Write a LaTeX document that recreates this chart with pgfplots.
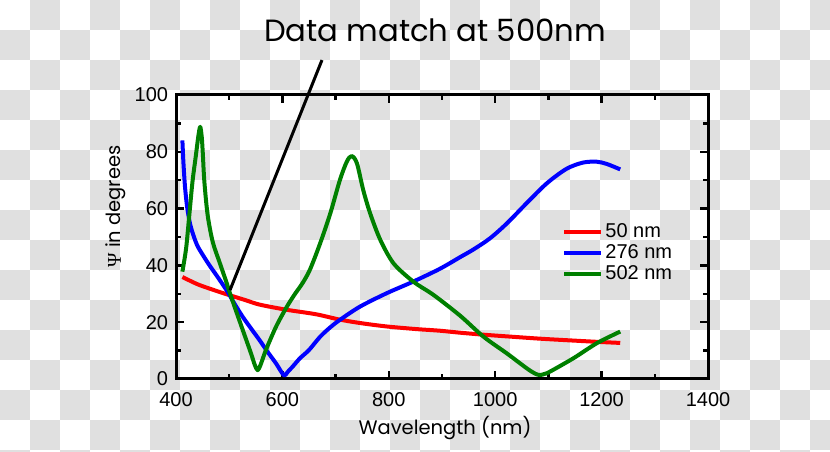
\documentclass[border=0pt]{standalone}
\usepackage{pgfplots}
\pgfplotsset{compat=1.18}
\usepackage{fontspec}
\setmainfont{Liberation Sans}
\newfontfamily\pop{Poppins}
\newfontfamily\lserif{Liberation Serif}
\definecolor{chk}{RGB}{224,224,224}
\definecolor{cred}{RGB}{255,0,0}
\definecolor{cblue}{RGB}{0,0,255}
\definecolor{cgreen}{RGB}{0,128,0}
\begin{document}
\begin{tikzpicture}[x=1pt,y=1pt]
\useasboundingbox (0,0) rectangle (830,452);
\begin{scope}
\clip (0,0) rectangle (830,452);
\foreach \i in {0,...,27}{\foreach \j in {0,...,15}{
  \pgfmathtruncatemacro{\k}{mod(\i+\j,2)}
  \ifnum\k=1 \fill[chk] (30*\i,452-30*\j) rectangle ++(30,-30); \fi
}}
\end{scope}
\begin{axis}[
  at={(176pt,73pt)}, anchor=south west, scale only axis,
  width=532pt, height=284pt,
  xmin=400, xmax=1400, ymin=0, ymax=100,
  clip=false,
  xtick={400,600,...,1400}, minor xtick={500,700,...,1300},
  ytick={0,20,...,100}, minor ytick={10,30,...,90},
  tick align=inside,
  major tick length=8pt, minor tick length=5pt,
  axis line style={line width=3pt},
  every tick/.style={black, line width=2.5pt},
  /pgf/number format/assume math mode=true,
  /pgf/number format/1000 sep={},
  ticklabel style={font=\fontsize{20}{20}\selectfont, inner sep=0pt},
  yticklabel style={xshift=-7.7pt},
  xticklabel style={yshift=-13.7pt},
  legend style={draw=none, fill=none, at={(axis cs:1126,55.4)}, anchor=north west,
    font=\fontsize{20}{20}\selectfont, row sep=1.5pt, inner sep=0pt},
  legend cell align=left,
  legend image code/.code={\draw[#1] (0pt,0pt) -- (37pt,0pt);},
]
\addplot[cred, line width=4pt, line join=round, smooth, tension=0.5] coordinates {
(412,35.9) (440,33.4) (462,31.9) (494,29.9) (530,27.8) (557,26.2) (607,24.4)
(663,22.8) (708,20.9) (750,19.6) (796,18.5) (850,17.6) (896,17.0) (934,16.3)
(978,15.6) (1030,14.9) (1084,14.2) (1140,13.6) (1190,13.1) (1235,12.7)};
\addlegendentry{50 nm}
\addplot[cblue, line width=4pt, line join=round, smooth, tension=0.5] coordinates {
(412,84) (414,76) (417,67.5) (421,60.5) (426,55) (432,51) (440,47) (450,43.8) (463,40)
(478,36) (497,30.7) (510,26.5) (525,22) (541,17.8) (557,13.7) (572,9.6) (588,5.5)
(598,2.5) (604,1.2) (610,2.5) (619,4.3) (633,7.3) (650,10.2) (671,14.9)
(690,18.2) (708,20.8) (746,25.5) (796,30.2) (846,34.3) (896,38.8) (934,42.9)
(959,45.6) (990,49.5) (1022,54.8) (1059,61.9) (1097,68.9) (1134,74.0)
(1165,76.2) (1191,76.5) (1210,75.7) (1235,73.8)};
\addlegendentry{276 nm}
\addplot[cgreen, line width=4pt, line join=round, smooth, tension=0.5] coordinates {
(412,37.8) (419,46) (425,57.7) (431,69.5) (437.5,78.9) (442,85.5) (445.5,88.8)
(448.5,85) (450.5,79) (453.3,69.5) (459.5,57.7) (469,48.3) (481.5,41.3)
(494,34.5) (500,31) (510,25.5) (525,17.5) (541,9)
(548,5) (553.5,3.1) (559,5) (569,10.2) (588,18.4) (607,25) (622,29.5) (638,33.8)
(652,38.6) (671,47.8) (690,58.3) (708,70) (721,76.5) (730,78.5) (740,76)
(752,66.5) (765,58.3) (784,49) (809,40.7) (846,34.3) (884,29.6) (934,22.3)
(978,14.9) (1022,9.0) (1059,3.8) (1075,1.9) (1084,1.4) (1093,1.8) (1103,2.6)
(1147,7.3) (1191,12.6) (1235,16.7)};
\addlegendentry{502 nm}
\draw[black, line width=3pt] (axis cs:501.5,31.3) -- (axis cs:674.4,112.3);
\end{axis}
\node[font=\pop\fontsize{30.7}{31}\selectfont] at (435,422) {Data match at 500nm};
\node[font=\pop\fontsize{19.5}{20}\selectfont] at (445,24) {Wavelength (nm)};
\node[font=\pop\fontsize{19.5}{20}\selectfont, rotate=90] at (116,245.5) {{\lserif Ψ} in degrees};
\end{tikzpicture}
\end{document}
